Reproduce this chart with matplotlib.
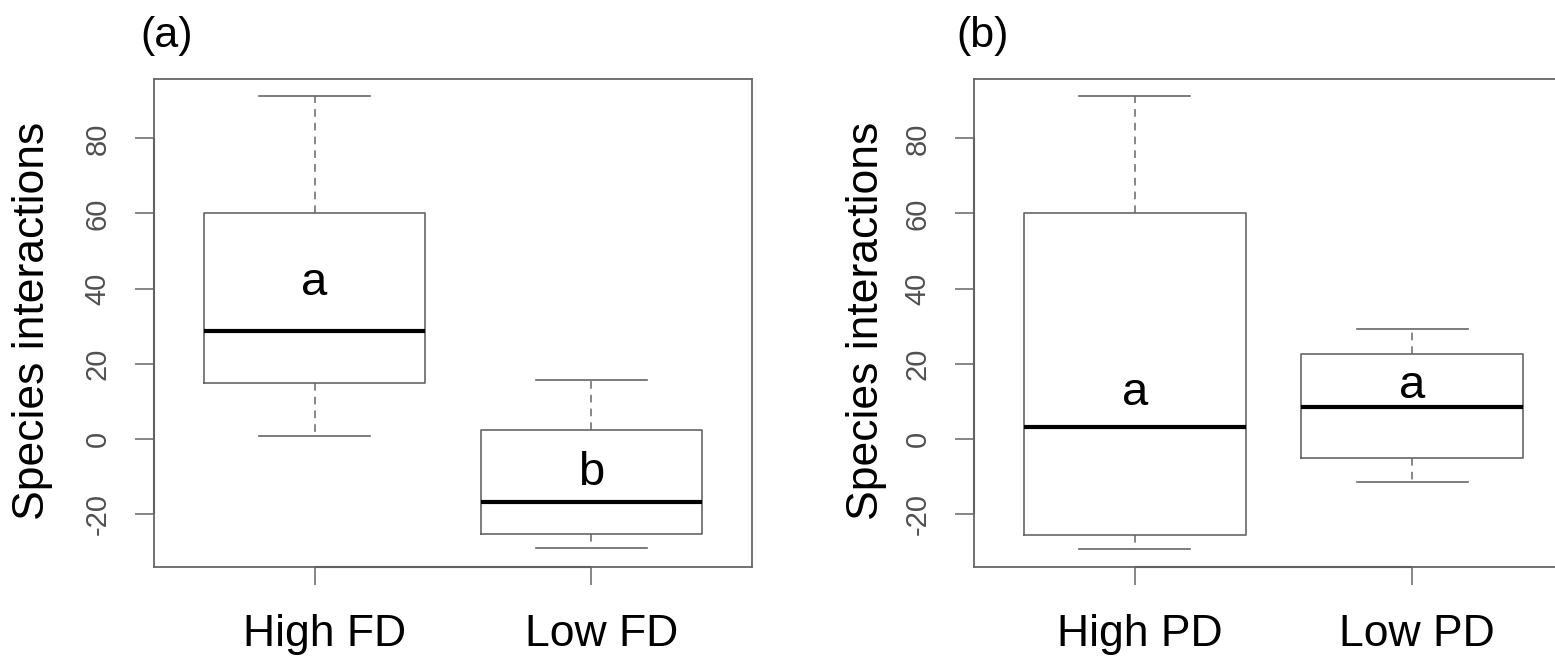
import matplotlib
matplotlib.use("Agg")
import matplotlib.pyplot as plt
import matplotlib.transforms as mtransforms

plt.rcParams['font.family'] = ['Liberation Sans', 'DejaVu Sans']

# ---- data ----
groups_a = ["High FD", "Low FD"]
whislo_a = [0.8, -29.1]
q1_a = [14.9, -25.4]
med_a = [28.8, -16.8]
q3_a = [60.2, 2.3]
whishi_a = [91.2, 15.8]
letters_a = ["a", "b"]
letter_y_a = [38.2, -12.3]

groups_b = ["High PD", "Low PD"]
whislo_b = [-29.3, -11.4]
q1_b = [-25.6, -5.2]
med_b = [3.2, 8.4]
q3_b = [60.0, 22.7]
whishi_b = [91.2, 29.2]
letters_b = ["a", "a"]
letter_y_b = [9.0, 10.9]

yticks = [-20, 0, 20, 40, 60, 80]
ylabel = "Species interactions"
panel_titles = ["(a)", "(b)"]

W, H = 1555, 657
fig = plt.figure(figsize=(W / 100, H / 100), dpi=100)

GREY = "#666666"
YLIM = (-34.1, 95.8)


def px_axes(x0, x1, y0, y1):
    return fig.add_axes([x0 / W, 1 - y1 / H, (x1 - x0) / W, (y1 - y0) / H])


def panel(ax, groups, lo, q1, med, q3, hi, letters, ly, xlab_shift):
    stats = []
    for i in range(len(groups)):
        stats.append(dict(whislo=lo[i], q1=q1[i], med=med[i], q3=q3[i],
                          whishi=hi[i], fliers=[], label=groups[i]))
    pos = list(range(1, len(groups) + 1))
    ax.bxp(stats, positions=pos, widths=0.8, capwidths=0.4, showfliers=False,
           boxprops=dict(color=GREY, linewidth=1.2),
           medianprops=dict(color="black", linewidth=3.0, solid_capstyle="butt"),
           whiskerprops=dict(color=GREY, linewidth=1.1, linestyle=(0, (5, 4))),
           capprops=dict(color=GREY, linewidth=1.2))
    ax.set_xlim(0.42, len(groups) + 0.58)
    ax.set_ylim(*YLIM)
    ax.set_yticks(yticks)
    ax.set_yticklabels([str(t) for t in yticks])
    ax.tick_params(axis="y", direction="out", length=13.5, width=1.1, color=GREY,
                   labelsize=21, labelcolor="#505050", labelrotation=90, pad=17)
    ax.tick_params(axis="x", direction="out", length=13, width=1.1, color=GREY,
                   labelsize=32, labelcolor="black", pad=21)
    for lab in ax.get_yticklabels():
        lab.set_verticalalignment("center")
    shift = mtransforms.ScaledTranslation(xlab_shift / 100, 0, fig.dpi_scale_trans)
    for lab in ax.get_xticklabels():
        lab.set_transform(lab.get_transform() + shift)
    for s in ax.spines.values():
        s.set_color(GREY)
        s.set_linewidth(1.3)
    # R-style axis segments
    ax.plot([pos[0], pos[-1]], [YLIM[0], YLIM[0]], color="#444444", lw=1.5,
            clip_on=False, solid_capstyle="butt")
    ax.plot([ax.get_xlim()[0]] * 2, [yticks[0], yticks[-1]], color="#444444",
            lw=1.5, clip_on=False, solid_capstyle="butt")
    for p, t, y in zip(pos, letters, ly):
        ax.text(p, y, t, ha="center", va="baseline", fontsize=34, color="black")


axA = px_axes(154, 752, 79, 567)
panel(axA, groups_a, whislo_a, q1_a, med_a, q3_a, whishi_a, letters_a, letter_y_a, 10)
axB = px_axes(974, 1573, 79, 567)
panel(axB, groups_b, whislo_b, q1_b, med_b, q3_b, whishi_b, letters_b, letter_y_b, 5)

fig.text(33 / W, 1 - 321 / H, ylabel, rotation=90, ha="center", va="center", fontsize=32)
fig.text(866 / W, 1 - 321 / H, ylabel, rotation=90, ha="center", va="center", fontsize=32)
fig.text(167 / W, 1 - 36 / H, panel_titles[0], ha="center", va="center", fontsize=31)
fig.text(983 / W, 1 - 36 / H, panel_titles[1], ha="center", va="center", fontsize=31)

fig.savefig("out.png", dpi=100, facecolor="white")
